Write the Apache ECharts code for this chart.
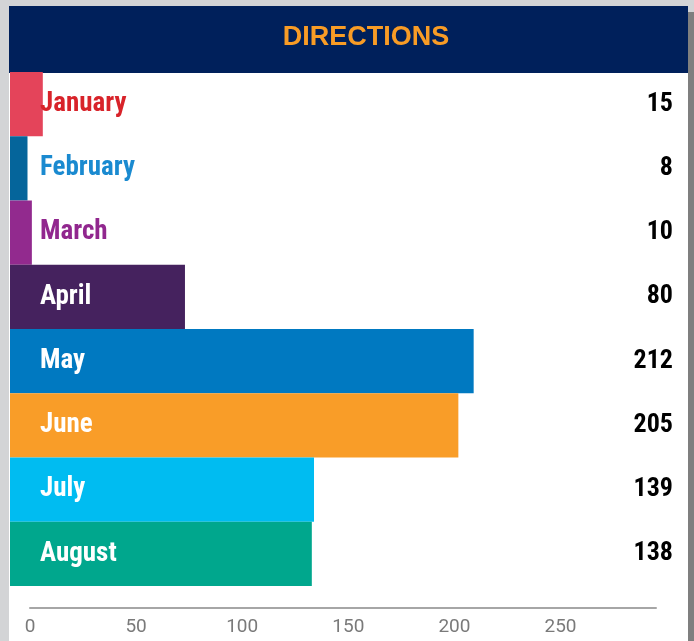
<!DOCTYPE html>
<html>
<head>
<meta charset="utf-8">
<script src="https://cdn.jsdelivr.net/npm/echarts@6/dist/echarts.min.js"></script>
<style>
  html, body { margin: 0; padding: 0; background: #d3d4d6; }
  #chart { width: 694px; height: 641px; }
</style>
</head>
<body>
<div id="chart"></div>
<script>
// data
const months = ["January", "February", "March", "April", "May", "June", "July", "August"]
const counts = [15, 8, 10, 80, 212, 205, 139, 138]
const barColors = ["#e4445a", "#05659b", "#922a8e", "#45225e", "#0079c1", "#f99d28", "#00bcf1", "#00a78d"]
const labelColors = ["#d8232a", "#1a8ad0", "#91278e", "#fff", "#fff", "#fff", "#fff", "#fff"]
const axisTicks = [0, 50, 100, 150, 200, 250]

const narrow = '"Roboto Condensed", "Liberation Sans Narrow", Roboto, sans-serif'

const chart = echarts.init(document.getElementById("chart"))

const option = {
  backgroundColor: "#d3d4d6",
  animation: false,
  graphic: [
    // panel, right shadow, header
    { type: "rect", shape: { x: 688, y: 12, width: 6, height: 629 }, style: { fill: "#7f7f7f" }, z: 1 },
    { type: "rect", shape: { x: 9, y: 6, width: 679, height: 635 }, style: { fill: "#fff" }, z: -10 },
    { type: "rect", shape: { x: 9, y: 6, width: 679, height: 67 }, style: { fill: "#00205b" }, z: -9 },
    {
      type: "text",
      x: 366,
      y: 38,
      style: {
        text: "DIRECTIONS",
        fill: "#f89c26",
        font: 'bold 27px "Liberation Sans", Arial, sans-serif',
        textAlign: "center",
        textVerticalAlign: "middle"
      },
      z: 5
    }
  ],
  grid: [
    { left: 10, right: 6, top: 72, bottom: 55 },
    { left: 30, right: 38, top: 72, bottom: 33 }
  ],
  xAxis: [
    { type: "value", gridIndex: 0, min: 0, max: 310, show: false },
    {
      type: "value",
      gridIndex: 1,
      min: 0,
      max: 295,
      interval: 50,
      axisLine: { show: true, lineStyle: { color: "#a6a6a6", width: 2 } },
      axisTick: { show: false },
      splitLine: { show: false },
      axisLabel: {
        color: "#7a7a7a",
        fontSize: 19,
        fontFamily: "Roboto, sans-serif",
        margin: 10,
        showMaxLabel: false,
        formatter: (v) => (axisTicks.includes(v) ? String(v) : "")
      }
    }
  ],
  yAxis: [
    { type: "category", gridIndex: 0, data: months, inverse: true, show: false },
    {
      type: "category",
      gridIndex: 0,
      position: "right",
      data: counts.map(String),
      inverse: true,
      z: 10,
      axisLine: { show: false },
      axisTick: { show: false },
      axisLabel: {
        inside: true,
        margin: 15,
        color: "#000",
        fontSize: 26,
        fontWeight: "bold",
        fontFamily: narrow
      }
    },
    { type: "category", gridIndex: 1, show: false, data: [""] }
  ],
  series: [
    {
      type: "bar",
      xAxisIndex: 0,
      yAxisIndex: 0,
      barWidth: "100%",
      data: counts.map((v, i) => ({
        value: v,
        itemStyle: { color: barColors[i] },
        label: { color: labelColors[i] }
      })),
      label: {
        show: true,
        position: [30, "50%"],
        align: "left",
        verticalAlign: "middle",
        formatter: "{b}",
        fontSize: 27,
        fontWeight: "bold",
        fontFamily: narrow
      }
    }
  ]
}

chart.setOption(option)
</script>
</body>
</html>
